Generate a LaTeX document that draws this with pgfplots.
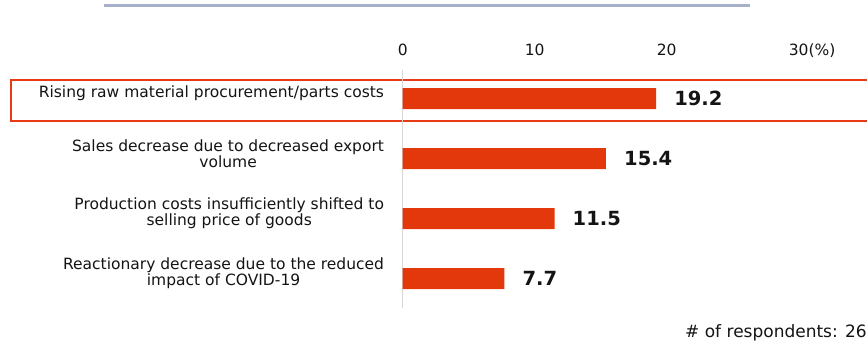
\documentclass[border=0pt]{standalone}
\usepackage{fontspec}
\setmainfont{DejaVu Sans}
\newfontfamily\valfont{DejaVu Sans}
\usepackage{pgfplots}
\pgfplotsset{compat=1.18}
\definecolor{barred}{RGB}{227,56,11}
\definecolor{framered}{RGB}{232,58,20}
\definecolor{topline}{RGB}{166,176,200}
\definecolor{axgray}{RGB}{215,215,215}
\definecolor{txt}{RGB}{20,20,20}
\begin{document}
\begin{tikzpicture}
\useasboundingbox (0,0) rectangle (867pt,-341pt);
\draw[topline, line width=3pt] (104pt,-5pt) -- (750pt,-5pt);
\draw[framered, line width=2pt] (11pt,-80pt) rectangle (890pt,-121pt);
\begin{axis}[
  at={(402.7pt,-278.5pt)}, anchor=origin,
  x=13.2pt, y=60pt,
  xmin=0, xmax=35, ymin=-0.49, ymax=3.475,
  axis x line*=top, axis y line*=left,
  x axis line style={draw=none},
  y axis line style={draw=axgray, line width=1.5pt, -},
  major tick length=0pt,
  xtick={0,10,20,30},
  xticklabels={0,10,20,{30\rlap{(\%)}}},
  xticklabel style={anchor=base, inner sep=0pt, yshift=15pt, font=\fontsize{15.5}{15.5}\selectfont, text=txt},
  ytick={0,1,2,3},
  yticklabels={{Reactionary decrease due to the reduced\\impact of COVID-19},
               {Production costs insufficiently shifted to\\selling price of goods},
               {Sales decrease due to decreased export\\volume},
               {Rising raw material procurement/parts costs}},
  yticklabel style={anchor=east, inner sep=0pt, xshift=-18.5pt, yshift=5pt, align=center, text=txt,
     font=\fontsize{15.5}{13.3}\selectfont},
  /pgf/number format/assume math mode=true,
  clip=false,
]
\addplot[xbar, bar width=21pt, fill=barred, draw=none,
  nodes near coords,
  nodes near coords style={anchor=west, inner sep=0pt, xshift=18pt, text=txt,
     font=\valfont\bfseries\fontsize{19.5}{19.5}\selectfont,
     /pgf/number format/.cd, fixed, precision=1, fixed zerofill, assume math mode=true}]
  coordinates {(7.7,0) (11.5,1) (15.4,2) (19.2,3)};
\end{axis}
\node[anchor=base west, inner sep=0pt, text=txt, font=\fontsize{17}{17}\selectfont] at (685pt,-337pt) {\# of respondents: 26};
\end{tikzpicture}
\end{document}
